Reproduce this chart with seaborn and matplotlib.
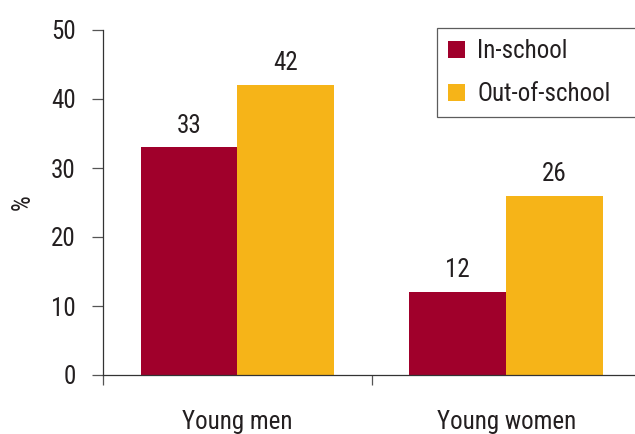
import matplotlib
matplotlib.use("Agg")
import matplotlib.pyplot as plt
import seaborn as sns
import pandas as pd
from matplotlib.font_manager import fontManager

groups = ["Young men", "Young women"]
series = ["In-school", "Out-of-school"]
in_school = [33, 12]
out_school = [42, 26]
yticks = [0, 10, 20, 30, 40, 50]

names = {f.name for f in fontManager.ttflist}
fam = "DejaVu Sans"
for cand in ["Roboto Condensed", "Liberation Sans Narrow", "Open Sans Condensed", "Roboto"]:
    if cand in names:
        fam = cand
        break

sns.set_theme(style="white")
plt.rcParams["font.family"] = [fam, "DejaVu Sans"]
txt = "#231F20"
FS = 18

df = pd.DataFrame({
    "group": groups * 2,
    "status": [series[0]] * 2 + [series[1]] * 2,
    "value": in_school + out_school,
})

fig = plt.figure(figsize=(6.35, 4.34), dpi=100)
ax = fig.add_axes([103 / 635, 59 / 434, 1 - 103 / 635, 345 / 434])
sns.barplot(data=df, x="group", y="value", hue="status", order=groups, hue_order=series,
            palette=["#A0002B", "#F6B418"], width=0.72, saturation=1, linewidth=0,
            ax=ax, legend=True)

ax.set_yticks(yticks)
ax.set_yticklabels([str(v) for v in yticks], fontsize=FS, color=txt)
ax.tick_params(axis="y", direction="out", length=8, width=0.9, color="#555555", pad=11.5, left=True)
ax.set_xticks([0, 1])
ax.set_xticklabels(groups, fontsize=FS, color=txt)
ax.tick_params(axis="x", which="major", length=0, pad=25)
ax.set_xticks([-0.5, 0.5, 1.5], minor=True)
ax.tick_params(axis="x", which="minor", direction="out", length=7.5, width=0.9, color="#555555", bottom=True)
ax.set_ylim(0, 50)
ax.set_xlim(-0.5, 1.479)
ax.set_xlabel("")
ax.set_ylabel("%", fontsize=FS, color=txt, labelpad=12)

for s in ["top", "right"]:
    ax.spines[s].set_visible(False)
for s in ["left", "bottom"]:
    ax.spines[s].set_color("#333333")
    ax.spines[s].set_linewidth(0.9)

for c in ax.containers:
    ax.bar_label(c, fmt="%d", padding=7, fontsize=FS, color=txt)

leg = ax.legend(loc="upper left", mode="expand",
                bbox_to_anchor=(437 / 635, 1 - 32 / 434, 250 / 635, 0.01), bbox_transform=fig.transFigure,
                fontsize=FS, frameon=True, fancybox=False, edgecolor="#333333", handlelength=0.68,
                handleheight=0.68, handletextpad=0.48, borderpad=0.45, labelspacing=0.76, borderaxespad=0)
leg.get_frame().set_linewidth(0.9)
for t in leg.get_texts():
    t.set_color(txt)

fig.savefig("out.png", dpi=100)
